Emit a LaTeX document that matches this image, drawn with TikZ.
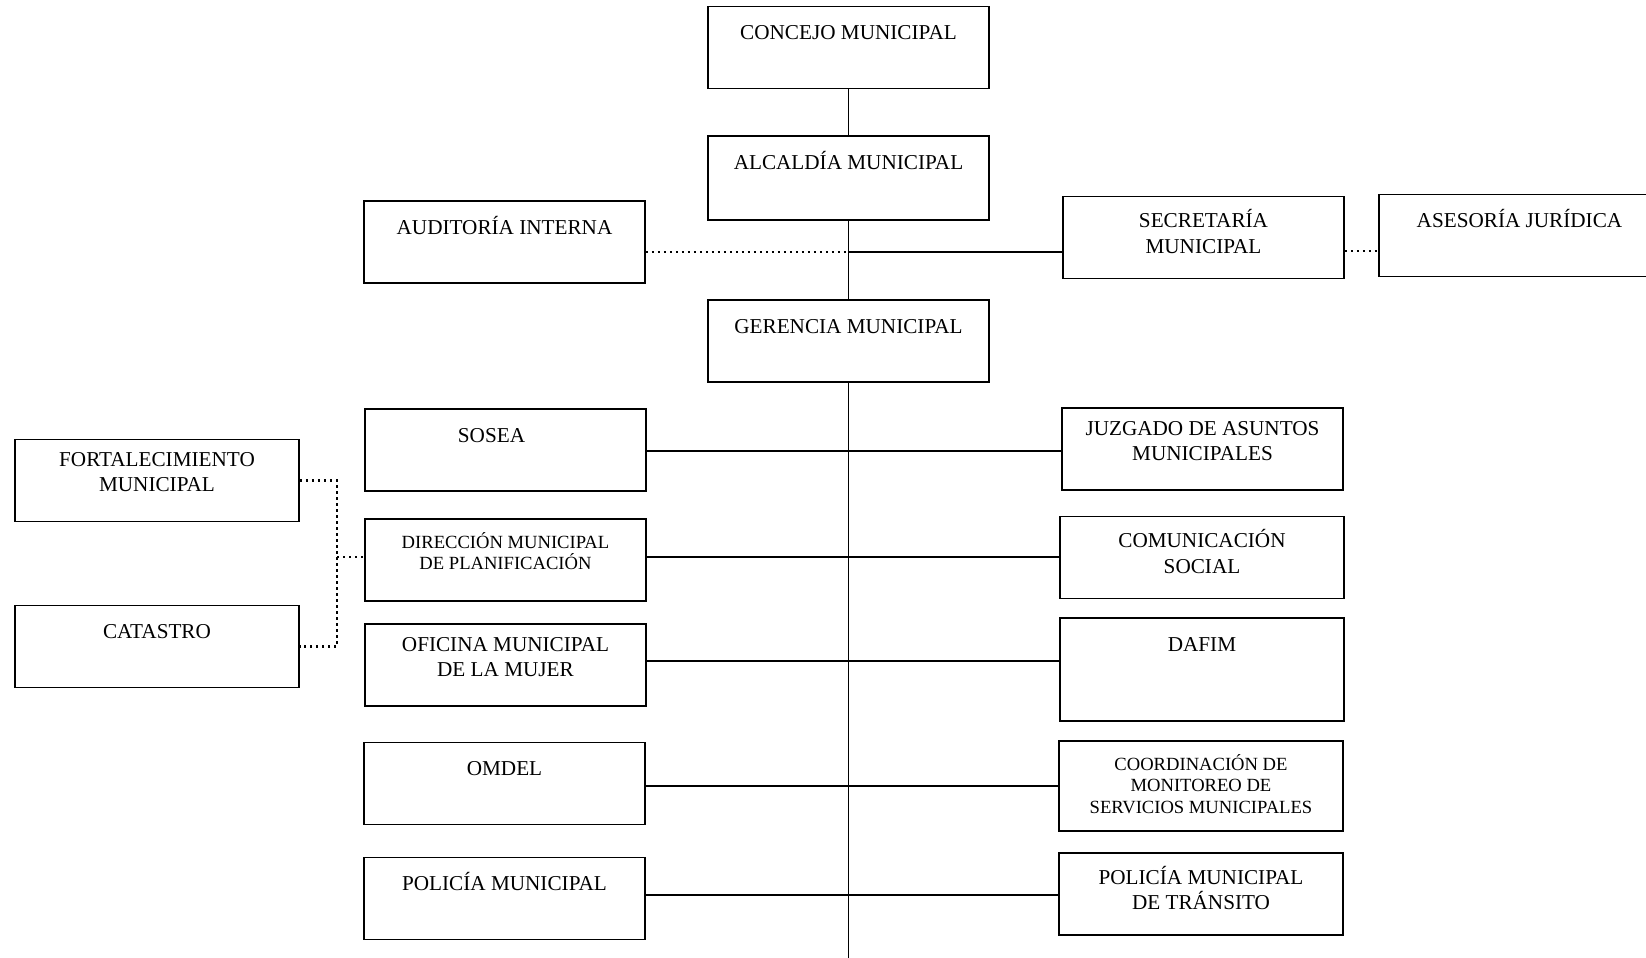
\documentclass[tikz,border=0pt]{standalone}
\usepackage{fontspec}
\setmainfont{Liberation Serif}
\begin{document}
\begin{tikzpicture}[x=0.5pt,y=-0.5pt]
\tikzstyle{unit}=[draw,line width=0.8pt,minimum width=140.5pt,minimum height=41pt,inner sep=0pt]
\tikzstyle{wide}=[minimum width=142pt]
\tikzstyle{caption}=[anchor=north,yshift=-6.8pt,inner sep=0pt,align=center,font=\fontsize{10.6}{12.6}\selectfont,execute at begin node=\rule{0pt}{0.95em}]
\tikzstyle{small}=[font=\fontsize{9.3}{10.9}\selectfont]
\tikzstyle{link}=[draw,line width=0.6pt]
\tikzstyle{dots}=[draw,line width=1.2pt,dash pattern=on 1.2pt off 1.8pt]
\useasboundingbox (0,0) rectangle (1646,958);
\node[unit,label={[caption]north:CONCEJO MUNICIPAL}] (conc) at (848.5,47.5) {};
\node[unit,minimum height=42pt,label={[caption]north:ALCALDÍA MUNICIPAL}] (alc) at (848.5,178) {};
\node[unit,label={[caption]north:AUDITORÍA INTERNA}] (aud) at (504.5,242) {};
\node[unit,label={[caption]north:SECRETARÍA\\MUNICIPAL}] (sec) at (1203.5,237.5) {};
\node[unit,label={[caption]north:ASESORÍA JURÍDICA}] (ase) at (1519.5,235.5) {};
\node[unit,label={[caption]north:GERENCIA MUNICIPAL}] (ger) at (848.5,341) {};
\node[unit,label={[caption,xshift=-7pt]north:SOSEA}] (sosea) at (505.5,450) {};
\node[unit,label={[caption]north:JUZGADO DE ASUNTOS\\MUNICIPALES}] (juz) at (1202.5,449) {};
\node[unit,wide,label={[caption]north:FORTALECIMIENTO\\MUNICIPAL}] (fort) at (157,480.5) {};
\node[unit,label={[caption,small]north:DIRECCIÓN MUNICIPAL\\DE PLANIFICACIÓN}] (dir) at (505.5,560) {};
\node[unit,wide,label={[caption]north:COMUNICACIÓN\\SOCIAL}] (com) at (1202,557.5) {};
\node[unit,wide,label={[caption]north:CATASTRO}] (cat) at (157,646.5) {};
\node[unit,label={[caption]north:OFICINA MUNICIPAL\\DE LA MUJER}] (ofi) at (505.5,665) {};
\node[unit,wide,minimum height=51.5pt,label={[caption]north:DAFIM}] (dafim) at (1202,669.5) {};
\node[unit,label={[caption]north:OMDEL}] (omdel) at (504.5,783.5) {};
\node[unit,wide,minimum height=45pt,label={[caption,small]north:COORDINACIÓN DE\\MONITOREO DE\\SERVICIOS MUNICIPALES}] (coord) at (1201,786) {};
\node[unit,label={[caption]north:POLICÍA MUNICIPAL}] (pol) at (504.5,898.5) {};
\node[unit,wide,label={[caption]north:POLICÍA MUNICIPAL\\DE TRÁNSITO}] (tran) at (1201,894) {};
\coordinate (foot) at (848.5,958);
\coordinate (t0) at (848.5,252);
\coordinate (t1) at (848.5,451);
\coordinate (t2) at (848.5,557);
\coordinate (t3) at (848.5,661);
\coordinate (t4) at (848.5,786);
\coordinate (t5) at (848.5,895);
\coordinate (brk) at (337,557);
\path[link] (conc) -- (alc);
\path[link] (alc) -- (ger);
\path[link] (ger) -- (foot);
\path[dots] (aud.east |- t0) -- (t0);
\path[link] (t0) -- (sec.west |- t0);
\path[dots] (sec.east |- 0,251) -- (ase.west |- 0,251);
\path[link] (sosea.east |- t1) -- (juz.west |- t1);
\path[link] (dir.east |- t2) -- (com.west |- t2);
\path[link] (ofi.east |- t3) -- (dafim.west |- t3);
\path[link] (omdel.east |- t4) -- (coord.west |- t4);
\path[link] (pol.east |- t5) -- (tran.west |- t5);
\path[dots] (fort.east) -| (brk) |- (cat.east);
\path[dots] (brk) -- (dir.west |- brk);
\end{tikzpicture}
\end{document}
